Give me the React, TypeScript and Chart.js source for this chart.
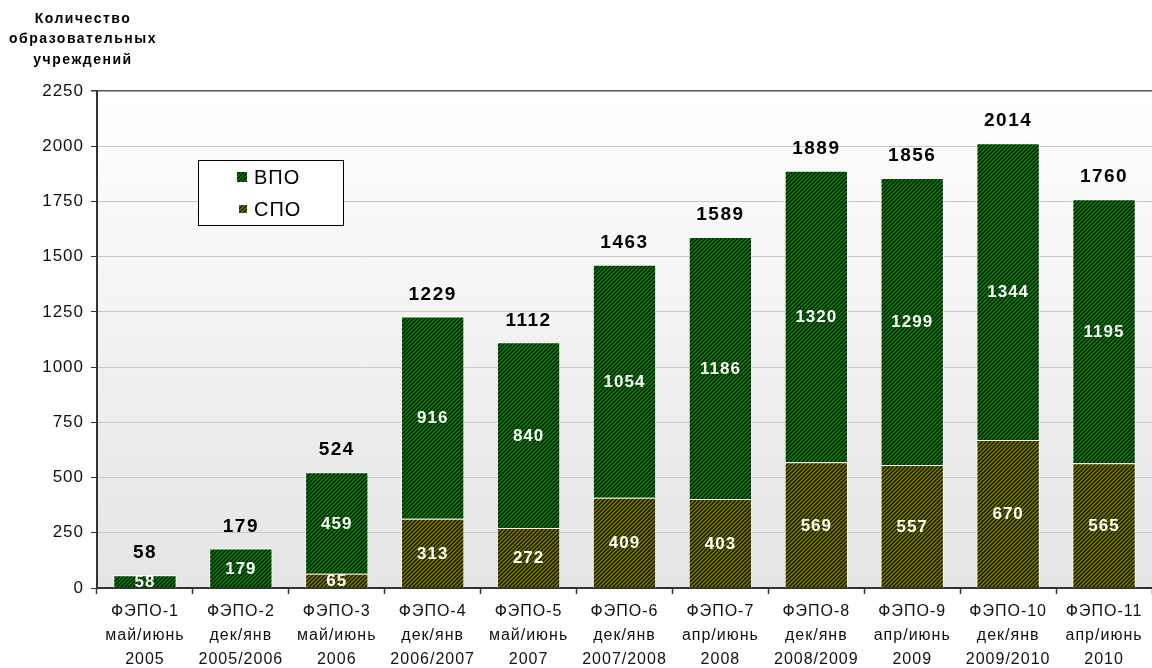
import React, { useEffect, useRef } from "react";
import { Chart, registerables } from "chart.js";

Chart.register(...registerables);

const categories: string[][] = [
  ["ФЭПО-1", "май/июнь", "2005"],
  ["ФЭПО-2", "дек/янв", "2005/2006"],
  ["ФЭПО-3", "май/июнь", "2006"],
  ["ФЭПО-4", "дек/янв", "2006/2007"],
  ["ФЭПО-5", "май/июнь", "2007"],
  ["ФЭПО-6", "дек/янв", "2007/2008"],
  ["ФЭПО-7", "апр/июнь", "2008"],
  ["ФЭПО-8", "дек/янв", "2008/2009"],
  ["ФЭПО-9", "апр/июнь", "2009"],
  ["ФЭПО-10", "дек/янв", "2009/2010"],
  ["ФЭПО-11", "апр/июнь", "2010"],
];
const vpo = [58, 179, 459, 916, 840, 1054, 1186, 1320, 1299, 1344, 1195];
const spo: (number | null)[] = [null, null, 65, 313, 272, 409, 403, 569, 557, 670, 565];
const totals = [58, 179, 524, 1229, 1112, 1463, 1589, 1889, 1856, 2014, 1760];
const yTitle = ["Количество", "образовательных", "учреждений"];
const legendLabels = ["ВПО", "СПО"];

const FONT = "'Liberation Sans', Arial, sans-serif";

function makePattern(base: string, stripe: string): CanvasPattern | string {
  const c = document.createElement("canvas");
  c.width = 4;
  c.height = 4;
  const x = c.getContext("2d");
  if (!x) return base;
  x.fillStyle = base;
  x.fillRect(0, 0, 4, 4);
  x.strokeStyle = stripe;
  x.lineWidth = 1.5;
  x.beginPath();
  x.moveTo(-1, 5);
  x.lineTo(5, -1);
  x.moveTo(-1, 1);
  x.lineTo(1, -1);
  x.moveTo(3, 5);
  x.lineTo(5, 3);
  x.stroke();
  const p = x.createPattern(c, "repeat");
  return p || base;
}

export default function App() {
  const ref = useRef<HTMLCanvasElement>(null);
  useEffect(() => {
    if (!ref.current) return;
    const greenPat = makePattern("#0c8a0c", "#001800");
    const olivePat = makePattern("#7e7e00", "#181800");

    const bgPlugin = {
      id: "bg",
      beforeDraw(chart: any) {
        const { ctx, chartArea } = chart;
        ctx.save();
        const g = ctx.createLinearGradient(0, chartArea.top, 0, chartArea.bottom);
        g.addColorStop(0, "#ffffff");
        g.addColorStop(1, "#e4e4e4");
        ctx.fillStyle = g;
        ctx.fillRect(chartArea.left, chartArea.top, chartArea.right - chartArea.left, chartArea.bottom - chartArea.top);
        ctx.restore();
        (ctx as any).letterSpacing = "1px";
      },
      beforeLayout(chart: any) {
        (chart.ctx as any).letterSpacing = "1px";
      },
    };

    const labelsPlugin = {
      id: "labels",
      afterDatasetsDraw(chart: any) {
        const { ctx } = chart;
        ctx.save();
        (ctx as any).letterSpacing = "1px";
        ctx.textAlign = "center";
        ctx.textBaseline = "middle";
        ctx.font = `bold 17px ${FONT}`;
        ctx.fillStyle = "#ffffff";
        chart.data.datasets.forEach((ds: any, di: number) => {
          const meta = chart.getDatasetMeta(di);
          meta.data.forEach((el: any, i: number) => {
            const v = ds.data[i];
            if (v == null || v === 0) return;
            const cy = (el.y + el.base) / 2;
            ctx.fillText(String(v), el.x, cy + 1);
          });
        });
        // totals
        (ctx as any).letterSpacing = "1.5px";
        ctx.font = `bold 19px ${FONT}`;
        ctx.fillStyle = "#000000";
        const meta = chart.getDatasetMeta(1);
        meta.data.forEach((el: any, i: number) => {
          ctx.fillText(String(totals[i]), el.x, el.y - 22);
        });
        // y title
        (ctx as any).letterSpacing = "1.5px";
        ctx.font = `bold 14px ${FONT}`;
        ctx.fillStyle = "#000000";
        yTitle.forEach((t, i) => ctx.fillText(t, 83, 19 + i * 20.5));
        // legend
        (ctx as any).letterSpacing = "1px";
        ctx.fillStyle = "#ffffff";
        ctx.fillRect(198.5, 160.5, 145, 65);
        ctx.strokeStyle = "#000000";
        ctx.lineWidth = 1;
        ctx.strokeRect(198.5, 160.5, 145, 65);
        ctx.textAlign = "left";
        ctx.font = `20px ${FONT}`;
        ctx.fillStyle = greenPat as any;
        ctx.fillRect(237, 172, 10, 10);
        ctx.fillStyle = olivePat as any;
        ctx.fillRect(239, 205, 8, 8);
        ctx.fillStyle = "#000000";
        ctx.fillText(legendLabels[0], 254, 178);
        ctx.fillText(legendLabels[1], 254, 210);
        ctx.restore();
      },
    };

    const chart = new Chart(ref.current, {
      type: "bar",
      data: {
        labels: categories,
        datasets: [
          {
            label: legendLabels[1],
            data: spo,
            backgroundColor: olivePat as any,
            borderColor: "rgba(255,255,255,0.85)",
            borderWidth: 1,
            categoryPercentage: 1,
            barPercentage: 0.66,
          },
          {
            label: legendLabels[0],
            data: vpo,
            backgroundColor: greenPat as any,
            borderColor: "rgba(255,255,255,0.85)",
            borderWidth: 1,
            categoryPercentage: 1,
            barPercentage: 0.66,
          },
        ],
      },
      options: {
        animation: false,
        responsive: false,
        maintainAspectRatio: false,
        layout: { padding: { left: 0, right: 0, top: 91, bottom: 0 } },
        plugins: { legend: { display: false }, tooltip: { enabled: false }, title: { display: false } },
        scales: {
          x: {
            stacked: true,
            offset: true,
            grid: {
              display: true,
              offset: true,
              drawOnChartArea: false,
              drawTicks: true,
              tickLength: 6,
              tickColor: "#333333",
              tickWidth: 1.5,
            },
            border: { display: true, color: "#333333", width: 2 },
            ticks: {
              color: "#111111",
              font: { family: FONT, size: 16, lineHeight: 1.5 },
              padding: 6,
              maxRotation: 0,
              autoSkip: false,
            },
            afterFit(scale: any) {
              scale.height = 80;
            },
          },
          y: {
            stacked: true,
            min: 0,
            max: 2250,
            grid: {
              color: (c: any) => (c.tick && c.tick.value === 2250 ? "#555555" : "#c8c8c8"),
              lineWidth: (c: any) => (c.tick && c.tick.value === 2250 ? 1.5 : 1),
              drawTicks: true,
              tickLength: 6,
              tickColor: "#333333",
            },
            border: { display: true, color: "#333333", width: 2 },
            ticks: {
              stepSize: 250,
              color: "#111111",
              font: { family: FONT, size: 17 },
              padding: 7,
              callback: (v: any) => String(v),
            },
            afterFit(scale: any) {
              scale.width = 97;
            },
          },
        },
      },
      plugins: [bgPlugin, labelsPlugin],
    });
    return () => chart.destroy();
  }, []);

  return (
    <div style={{ position: "fixed", left: 0, top: 0, width: 1152, height: 668, background: "#ffffff" }}>
      <canvas ref={ref} width={1152} height={668} style={{ display: "block", width: 1152, height: 668 }} />
    </div>
  );
}
